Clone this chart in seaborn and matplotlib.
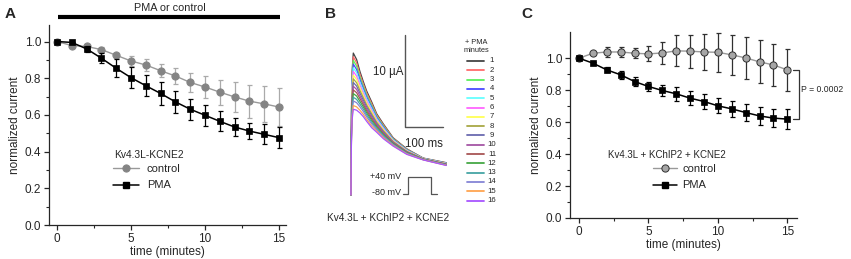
import numpy as np
import pandas as pd
import matplotlib
matplotlib.use('Agg')
import matplotlib.pyplot as plt
from matplotlib.lines import Line2D
import seaborn as sns

# ---- data ----
minutes = list(range(16))

# panel A: Kv4.3L-KCNE2
ctrl_a = [1.0, 0.978, 0.973, 0.956, 0.925, 0.894, 0.872, 0.841, 0.812, 0.777,
          0.752, 0.724, 0.698, 0.675, 0.660, 0.643]
ctrl_a_err = [0, 0.005, 0.01, 0.012, 0.015, 0.025, 0.035, 0.035, 0.045, 0.053,
              0.06, 0.068, 0.082, 0.09, 0.10, 0.105]
pma_a = [1.0, 0.995, 0.96, 0.909, 0.854, 0.803, 0.759, 0.717, 0.671, 0.631,
         0.598, 0.565, 0.534, 0.512, 0.494, 0.476]
pma_a_err = [0, 0.005, 0.016, 0.026, 0.05, 0.059, 0.058, 0.064, 0.062, 0.058,
             0.057, 0.055, 0.05, 0.046, 0.055, 0.056]

# panel C: Kv4.3L + KChIP2 + KCNE2
ctrl_c = [1.0, 1.031, 1.039, 1.039, 1.031, 1.027, 1.033, 1.046, 1.044, 1.039,
          1.037, 1.021, 1.002, 0.977, 0.958, 0.927]
ctrl_c_err = [0, 0.01, 0.031, 0.033, 0.03, 0.047, 0.07, 0.097, 0.104, 0.115,
              0.123, 0.125, 0.13, 0.135, 0.13, 0.13]
pma_c = [1.0, 0.969, 0.927, 0.896, 0.854, 0.823, 0.798, 0.777, 0.75, 0.729,
         0.702, 0.683, 0.66, 0.639, 0.625, 0.619]
pma_c_err = [0, 0.008, 0.015, 0.024, 0.031, 0.031, 0.036, 0.042, 0.045, 0.045,
             0.047, 0.052, 0.055, 0.057, 0.057, 0.06]

# panel B: current traces (ms, uA) -- first and last minute
trace_t = [0, 1, 2.6, 6, 14.5, 23, 31.6, 40, 53, 66, 83, 108, 143, 185, 244]
trace_first = [0, 8.0, 13.2, 15.4, 14.7, 13.4, 12.3, 11.3, 10.1, 8.8, 7.7, 6.2, 5.0, 4.0, 3.5]
trace_last = [0, 5.0, 8.0, 9.3, 9.2, 8.9, 8.5, 8.0, 7.3, 6.8, 6.1, 5.3, 4.4, 3.8, 3.2]
pma_minutes = list(range(1, 17))
peak_ua = [15.4, 15.0, 14.6, 14.2, 13.8, 13.4, 13.0, 12.6, 12.2, 11.8,
           11.4, 11.0, 10.6, 10.2, 9.7, 9.3]
trace_colors = ['#444444', '#ff6b6b', '#5cf05c', '#4a4aff', '#66ffff', '#ff66ff',
                '#ffff55', '#a8a845', '#6a6ab0', '#a555a5', '#a85555', '#45a845',
                '#45a5a5', '#8585d5', '#ffa550', '#a855ff']

# ---- style ----
sns.set_style('ticks')
plt.rcParams['font.family'] = ['Liberation Sans', 'DejaVu Sans']
plt.rcParams['axes.linewidth'] = 0.9
plt.rcParams['xtick.major.width'] = 0.9
plt.rcParams['ytick.major.width'] = 0.9
plt.rcParams['xtick.minor.width'] = 0.8
plt.rcParams['ytick.minor.width'] = 0.8
plt.rcParams['xtick.major.size'] = 3.5
plt.rcParams['ytick.major.size'] = 3.5
plt.rcParams['xtick.minor.size'] = 2
plt.rcParams['ytick.minor.size'] = 2

W, H = 851, 259
fig = plt.figure(figsize=(W / 100, H / 100), dpi=100)


def px_axes(x0, y0, x1, y1):
    # place an axes by its pixel box in the output image
    return fig.add_axes([x0 / W, 1 - y1 / H, (x1 - x0) / W, (y1 - y0) / H])


def time_panel(ax, ctrl, ctrl_err, pma, pma_err, ctrl_face, ctrl_edge, ctrl_line, ctrl_bar):
    ax.errorbar(minutes, ctrl, yerr=ctrl_err, fmt='none', ecolor=ctrl_bar,
                elinewidth=0.9, capsize=1.8, capthick=0.9, zorder=1)
    sns.lineplot(x=minutes, y=ctrl, ax=ax, color=ctrl_line, lw=1.0, marker='o',
                 markersize=5.2, mfc=ctrl_face, mec=ctrl_edge, mew=0.7, zorder=2)
    ax.errorbar(minutes, pma, yerr=pma_err, fmt='none', ecolor='black',
                elinewidth=0.9, capsize=1.8, capthick=0.9, zorder=3)
    sns.lineplot(x=minutes, y=pma, ax=ax, color='black', lw=1.1, marker='s',
                 markersize=5.0, mfc='black', mec='black', mew=0.5, zorder=4)
    ax.set_xticks([0, 5, 10, 15])
    ax.set_xticks([2.5, 7.5, 12.5], minor=True)
    ax.set_yticks([0.0, 0.2, 0.4, 0.6, 0.8, 1.0])
    ax.set_yticks([0.1, 0.3, 0.5, 0.7, 0.9], minor=True)
    ax.yaxis.set_major_formatter(matplotlib.ticker.FormatStrFormatter('%.1f'))
    ax.tick_params(labelsize=8.5, pad=2)
    ax.set_xlabel('time (minutes)', fontsize=8.5, labelpad=1)
    ax.set_ylabel('normalized current', fontsize=8.5, labelpad=3)
    sns.despine(ax=ax)
    handles = [Line2D([], [], color=ctrl_line, lw=1.0, marker='o', markersize=5.2,
                      mfc=ctrl_face, mec=ctrl_edge, mew=0.7),
               Line2D([], [], color='black', lw=1.1, marker='s', markersize=5.0,
                      mfc='black', mec='black')]
    return handles


# ---- panel A ----
ax_a = px_axes(49, 25, 286, 225)
h_a = time_panel(ax_a, ctrl_a, ctrl_a_err, pma_a, pma_a_err,
                 '#848484', '#848484', '#999999', '#aaaaaa')
ax_a.set_xlim(-0.54, 15.47)
ax_a.set_ylim(0, 1.09)
ax_a.plot([0.1, 15.05], [1.135, 1.135], color='black', lw=3.0,
          solid_capstyle='butt', clip_on=False)
fig.text(170 / W, 1 - 8 / H, 'PMA or control', ha='center', va='center', fontsize=7.8)
fig.text(114 / W, 1 - 155 / H, 'Kv4.3L-KCNE2', ha='left', va='center', fontsize=7.4)
ax_a.legend(h_a, ['control', 'PMA'], loc='upper left', frameon=False, fontsize=8,
            bbox_to_anchor=(113 / W, 1 - 164 / H), bbox_transform=fig.transFigure,
            borderpad=0, borderaxespad=0, handlelength=2.3, handletextpad=0.75,
            labelspacing=0.58)

# ---- panel C ----
ax_c = px_axes(570, 32, 797, 218)
h_c = time_panel(ax_c, ctrl_c, ctrl_c_err, pma_c, pma_c_err,
                 '#a6a6a6', '#303030', '#999999', '#303030')
ax_c.set_xlim(-0.65, 15.7)
ax_c.set_ylim(0, 1.164)
ax_c.plot([15.4, 15.84, 15.84, 15.4], [ctrl_c[-1], ctrl_c[-1], pma_c[-1], pma_c[-1]],
          color='#333333', lw=0.9, clip_on=False)
fig.text(801 / W, 1 - 90 / H, 'P = 0.0002', ha='left', va='center', fontsize=6.2)
fig.text(667 / W, 1 - 155 / H, 'Kv4.3L + KChIP2 + KCNE2', ha='center', va='center',
         fontsize=7.0)
ax_c.legend(h_c, ['control', 'PMA'], loc='upper left', frameon=False, fontsize=8,
            bbox_to_anchor=(653 / W, 1 - 164 / H), bbox_transform=fig.transFigure,
            borderpad=0, borderaxespad=0, handlelength=2.2, handletextpad=0.45,
            labelspacing=0.58)

# ---- panel B ----
ax_b = px_axes(340, 30, 460, 205)
ax_b.set_xlim(-28, 279)
ax_b.set_ylim(-1.09, 17.9)
ax_b.axis('off')
t_arr = np.array(trace_t)
first = np.array(trace_first)
last = np.array(trace_last)
rows = []
for m, pk in zip(pma_minutes, peak_ua):
    w = (pk - peak_ua[-1]) / (peak_ua[0] - peak_ua[-1])
    rows.append(pd.DataFrame({'time': t_arr, 'current': w * first + (1 - w) * last,
                              'minute': m}))
traces = pd.concat(rows, ignore_index=True)
sns.lineplot(data=traces, x='time', y='current', hue='minute', palette=trace_colors,
             estimator=None, sort=False, lw=0.9, legend=False, ax=ax_b)
# scale bars
ax_b.plot([138, 138, 236], [17.4, 7.4, 7.4], color='#555555', lw=1.0)
ax_b.text(133, 13.3, '10 \u00b5A', ha='right', va='center', fontsize=8.3)
ax_b.text(187, 6.2, '100 ms', ha='center', va='top', fontsize=8.3)
# voltage protocol
ax_b.plot([133, 146, 146, 205, 205, 220], [0.1, 0.1, 1.95, 1.95, 0.1, 0.1],
          color='#555555', lw=0.9)
ax_b.text(128, 1.95, '+40 mV', ha='right', va='center', fontsize=6.5)
ax_b.text(128, 0.3, '-80 mV', ha='right', va='center', fontsize=6.5)
fig.text(388 / W, 1 - 218 / H, 'Kv4.3L + KChIP2 + KCNE2', ha='center', va='center',
         fontsize=7.2)

# legend of panel B
ax_l = px_axes(460, 35, 500, 205)
ax_l.set_xlim(0, 40)
ax_l.set_ylim(170, 0)
ax_l.axis('off')
ax_l.text(16, 7, '+ PMA', ha='center', va='center', fontsize=5.3)
ax_l.text(16, 15, 'minutes', ha='center', va='center', fontsize=5.3)
for k, (m, c) in enumerate(zip(pma_minutes, trace_colors)):
    yk = 26 + k * 9.3
    ax_l.plot([7, 24], [yk, yk], color=c, lw=1.3)
    ax_l.text(32, yk, str(m), ha='center', va='center', fontsize=5.6)

# panel letters
for x, letter in [(10, 'A'), (330, 'B'), (527, 'C')]:
    fig.text(x / W, 1 - 14 / H, letter, ha='center', va='center', fontsize=11,
             fontweight='bold')

fig.savefig('out.png', dpi=100)
